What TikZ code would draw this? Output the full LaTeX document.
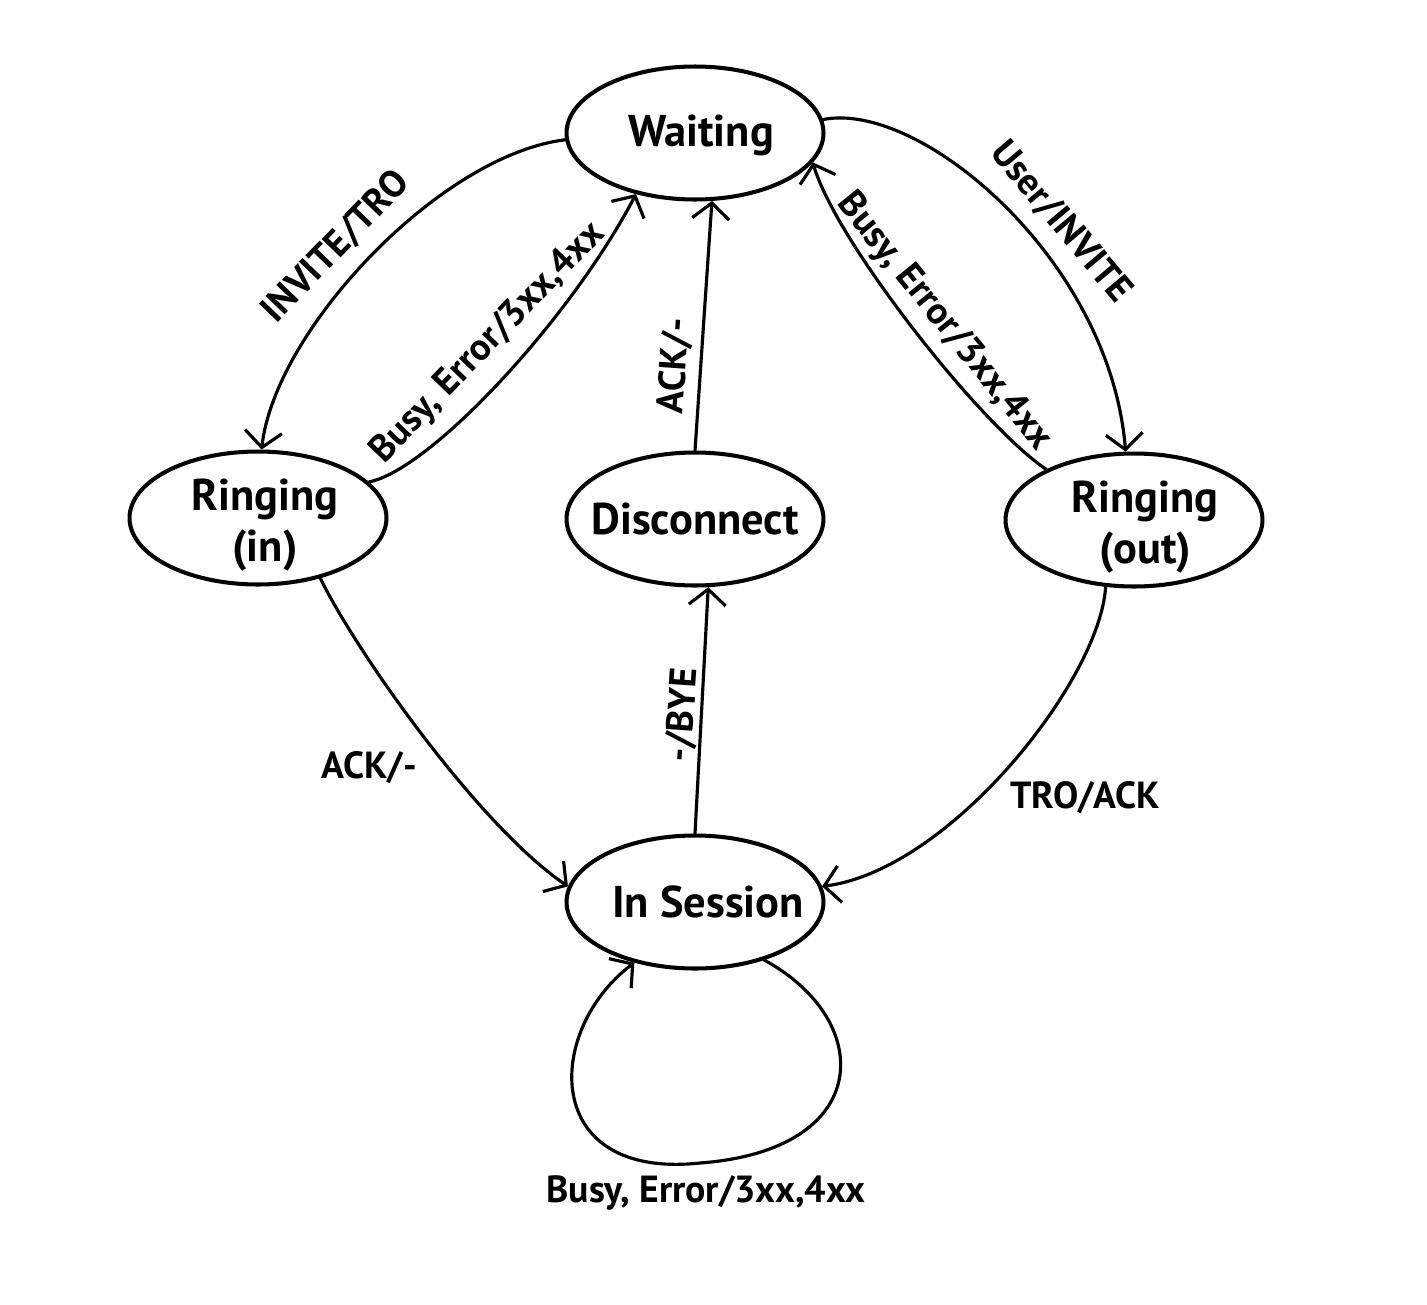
\documentclass[tikz,border=0pt]{standalone}
\usepackage{fontspec}
\setmainfont{PT Sans}
\usetikzlibrary{arrows.meta,shapes.geometric}

\begin{document}
\begin{tikzpicture}[x=0.02cm, y=-0.02cm,
    state/.style={draw, ellipse, line width=2.3pt, minimum width=5.14cm, minimum height=2.66cm, inner sep=0pt},
    statetext/.style={font=\fontsize{25.3}{29}\selectfont\bfseries, align=center},
    trans/.style={font=\fontsize{21.5}{25}\selectfont\bfseries},
    arr/.style={line width=1.8pt, line cap=round, -{Straight Barb[length=9pt,width=21pt]}}]
    \useasboundingbox (0,0) rectangle (1427,1305);

    % states
    \node[state, label={[statetext, xshift=0.12cm, yshift=-0.04cm]center:Waiting}] (waiting) at (695,133) {};
    \node[state, label={[statetext, xshift=0.14cm, yshift=-0.14cm]center:Ringing\\(in)}] (ringin) at (258,518) {};
    \node[state, label={[statetext]center:Disconnect}] (disc) at (695,519) {};
    \node[state, label={[statetext, xshift=0.22cm, yshift=-0.14cm]center:Ringing\\(out)}] (ringout) at (1134,520) {};
    \node[state, label={[statetext, xshift=0.26cm]center:In Session}] (insess) at (695,902) {};

    % transitions
    \draw[arr] (waiting.183) .. controls (440,155) and (275,330) .. (ringin.87);
    \draw[arr] (ringin.18) .. controls (430,470) and (570,320) .. (waiting.-134);
    \draw[arr] (disc.north) -- (waiting.-76);
    \draw[arr] (insess.north) -- (disc.-79);
    \draw[arr] (ringin.-44) .. controls (355,650) and (478,825) .. (insess.173);
    \draw[arr] (ringout.-113) .. controls (1100,680) and (950,870) .. (insess.7);
    \draw[arr] (waiting.6) .. controls (920,100) and (1110,260) .. (ringout.97);
    \draw[arr] (ringout.150) .. controls (980,425) and (835,240) .. (waiting.-14);
    \draw[arr] (insess.-40) .. controls (875,1020) and (875,1150) .. (700,1163)
        .. controls (540,1180) and (545,1030) .. (insess.-135);

    % labels
    \node[trans, rotate=46] (invtro) at (336,247) {INVITE/TRO};
    \node[trans, rotate=46] (busyin) at (488,343) {Busy, Error/3xx,4xx};
    \node[trans, rotate=86] (ackwait) at (675,366) {ACK/-};
    \node[trans, rotate=86] (bye) at (683,715) {-/BYE};
    \node[trans, rotate=-50] (usrinv) at (1061,222) {User/INVITE};
    \node[trans, rotate=-51] (busyout) at (944,322) {Busy, Error/3xx,4xx};
    \node[trans] (ackin) at (369,768) {ACK/-};
    \node[trans] (troack) at (1085,798) {TRO/ACK};
    \node[trans] (busyloop) at (706,1193) {Busy, Error/3xx,4xx};
\end{tikzpicture}
\end{document}
